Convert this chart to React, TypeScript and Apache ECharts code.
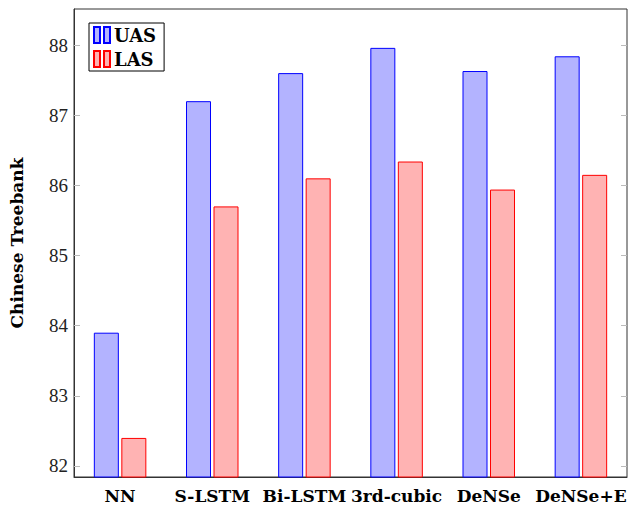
import React, { useEffect, useRef } from "react";
import * as echarts from "echarts";

const categories = ["NN", "S-LSTM", "Bi-LSTM", "3rd-cubic", "DeNSe", "DeNSe+E"];
const uasValues = [83.9, 87.2, 87.6, 87.96, 87.63, 87.84];
const lasValues = [82.4, 85.7, 86.1, 86.34, 85.94, 86.15];
const yTicks = [82, 83, 84, 85, 86, 87, 88];

export default function App() {
  const ref = useRef<HTMLDivElement>(null);
  useEffect(() => {
    if (!ref.current) return;
    const chart = echarts.init(ref.current, undefined, { renderer: "svg" });
    const serif = "DejaVu Serif";
    const yMin = 81.843;
    const yMax = 88.514;
    const iconPath = "path://M0,0h6v16h-6zM10,0h6v16h-6z";
    chart.setOption({
      animation: false,
      backgroundColor: "#fff",
      grid: {
        left: 72,
        right: 3,
        top: 9,
        bottom: 29,
        show: true,
        borderColor: "#333",
        borderWidth: 1,
        containLabel: false,
      },
      legend: {
        left: 89,
        top: 23,
        orient: "vertical",
        backgroundColor: "#fff",
        borderColor: "#000",
        borderWidth: 1,
        padding: [3, 8, 3, 4],
        itemGap: 6,
        itemWidth: 16,
        itemHeight: 16,
        textStyle: { fontFamily: serif, fontWeight: "bold", fontSize: 18, color: "#000", padding: [0, 0, 0, -1] },
        data: [
          { name: "UAS", icon: iconPath },
          { name: "LAS", icon: iconPath },
        ],
      },
      xAxis: {
        type: "category",
        data: categories,
        axisLine: { show: true, lineStyle: { color: "#333" } },
        axisTick: { show: false },
        axisLabel: {
          interval: 0,
          margin: 10,
          fontFamily: serif,
          fontWeight: "bold",
          fontSize: 17,
          color: "#000",
        },
      },
      yAxis: [
        {
          type: "value",
          min: yMin,
          max: yMax,
          name: "Chinese Treebank",
          nameLocation: "middle",
          nameGap: 49,
          nameTextStyle: { fontFamily: serif, fontWeight: "bold", fontSize: 17, color: "#000" },
          axisLine: { show: true, lineStyle: { color: "#333" } },
          splitLine: { show: false },
          axisTick: {
            show: true,
            inside: true,
            length: 6,
            customValues: yTicks,
            lineStyle: { color: "#bbb" },
          },
          axisLabel: {
            customValues: yTicks,
            margin: 6,
            fontFamily: "Liberation Serif",
            fontSize: 19,
            color: "#222",
          },
        },
        {
          type: "value",
          min: yMin,
          max: yMax,
          position: "right",
          axisLine: { show: false },
          splitLine: { show: false },
          axisTick: {
            show: true,
            inside: true,
            length: 6,
            customValues: yTicks,
            lineStyle: { color: "#bbb" },
          },
          axisLabel: { show: false },
        },
      ],
      series: [
        {
          name: "UAS",
          type: "bar",
          data: uasValues,
          barWidth: 25,
          barGap: "10%",
          itemStyle: { color: "#b3b3ff", borderColor: "#0000ff", borderWidth: 1 },
        },
        {
          name: "LAS",
          type: "bar",
          data: lasValues,
          barWidth: 25,
          barGap: "10%",
          itemStyle: { color: "#ffb3b3", borderColor: "#ff0000", borderWidth: 1 },
        },
      ],
    });
    return () => chart.dispose();
  }, []);
  return <div ref={ref} style={{ width: 630, height: 506, position: "absolute", left: 0, top: 0 }} />;
}
